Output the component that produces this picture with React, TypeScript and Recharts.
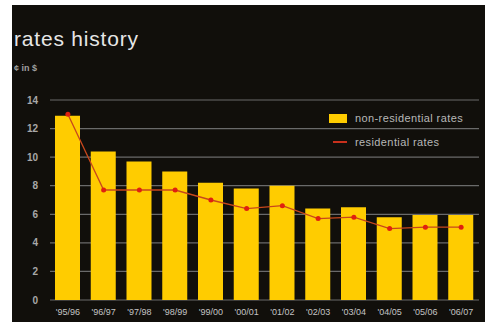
import { Bar, CartesianGrid, ComposedChart, Line, XAxis, YAxis } from "recharts";

const years = ["'95/96", "'96/97", "'97/98", "'98/99", "'99/00", "'00/01", "'01/02", "'02/03", "'03/04", "'04/05", "'05/06", "'06/07"];
const nonResidential = [12.9, 10.4, 9.7, 9.0, 8.2, 7.8, 8.0, 6.4, 6.5, 5.8, 5.95, 5.95];
const residential = [13.0, 7.7, 7.7, 7.7, 7.0, 6.4, 6.6, 5.7, 5.8, 5.0, 5.1, 5.1];
const yTicks = [0, 2, 4, 6, 8, 10, 12, 14];
const boundaryTicks = [0, 1, 2, 3, 4, 5, 6, 7, 8, 9, 10, 11, 12];

const data = years.map((y, i) => ({
  year: y,
  idx: i + 0.5,
  nonres: nonResidential[i],
  res: residential[i],
}));

const font = "'Liberation Sans', Arial, sans-serif";

function LegendBox() {
  return (
    <div
      style={{
        position: "absolute",
        left: 317,
        top: 107,
        fontFamily: font,
        fontSize: 11,
        letterSpacing: 0.4,
        color: "#b8b8b8",
      }}
    >
      <div style={{ display: "flex", alignItems: "center", height: 12 }}>
        <span style={{ display: "inline-block", width: 18, height: 9, background: "#ffcc00", marginRight: 8 }} />
        non-residential rates
      </div>
      <div style={{ display: "flex", alignItems: "center", height: 12, marginTop: 12 }}>
        <span style={{ display: "inline-block", width: 14, height: 1.5, background: "#c8301c", marginLeft: 4, marginRight: 8 }} />
        residential rates
      </div>
    </div>
  );
}

export default function App() {
  return (
    <div
      style={{
        position: "absolute",
        left: 12,
        top: 5,
        width: 473,
        height: 317,
        background: "#110f0b",
        overflow: "hidden",
      }}
    >
      <div
        style={{
          position: "absolute",
          left: 2,
          top: 23,
          fontFamily: font,
          fontSize: 21,
          lineHeight: "21px",
          letterSpacing: 0.8,
          color: "#e6e6e6",
        }}
      >
        rates history
      </div>
      <div
        style={{
          position: "absolute",
          left: 2,
          top: 59,
          fontFamily: font,
          fontSize: 9,
          lineHeight: "9px",
          fontWeight: "bold",
          color: "#a0a0a0",
        }}
      >
        ¢ in $
      </div>
      <ComposedChart width={473} height={317} data={data} margin={{ top: 95, right: 6, left: 0, bottom: 0 }}>
        <CartesianGrid vertical={false} stroke="#6a6a6a" strokeWidth={1.2} />
        <XAxis
          xAxisId="b"
          type="number"
          dataKey="idx"
          domain={[0, 12]}
          ticks={boundaryTicks}
          height={0}
          stroke="#8a8a8a"
          tickSize={3}
          tickFormatter={() => ""}
        />
        <XAxis
          dataKey="year"
          height={22}
          axisLine={false}
          tickLine={false}
          tickSize={0}
          tickMargin={9}
          interval={0}
          tick={{ fill: "#c4c4c4", fontSize: 9, fontFamily: font }}
        />
        <YAxis
          domain={[0, 14]}
          ticks={yTicks}
          width={38}
          axisLine={false}
          tickLine={false}
          tickSize={0}
          tickMargin={12}
          tick={{ fill: "#a8a8a8", fontSize: 10, fontFamily: font, fontWeight: "bold" }}
        />
        <Bar dataKey="nonres" name="non-residential rates" fill="#ffcc00" barSize={25} isAnimationActive={false} />
        <Line
          dataKey="res"
          name="residential rates"
          type="linear"
          stroke="#c8471c"
          strokeWidth={1.3}
          dot={{ r: 2.5, fill: "#e0200f", stroke: "none" }}
          activeDot={false}
          isAnimationActive={false}
        />
      </ComposedChart>
      <LegendBox />
    </div>
  );
}
